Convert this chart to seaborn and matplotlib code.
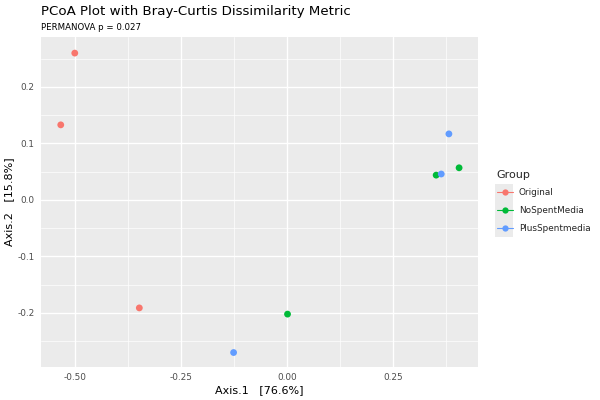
import matplotlib
matplotlib.use("Agg")
import matplotlib.pyplot as plt
import pandas as pd
import seaborn as sns
from matplotlib.lines import Line2D
from matplotlib.patches import Rectangle
from matplotlib.ticker import FixedLocator

# values
groups = ["Original", "Original", "Original",
          "NoSpentMedia", "NoSpentMedia", "NoSpentMedia",
          "PlusSpentmedia", "PlusSpentmedia", "PlusSpentmedia"]
axis1 = [-0.500, -0.533, -0.348, 0.351, 0.405, 0.001, 0.363, 0.381, -0.126]
axis2 = [0.260, 0.133, -0.191, 0.044, 0.057, -0.202, 0.046, 0.117, -0.270]

group_order = ["Original", "NoSpentMedia", "PlusSpentmedia"]
group_colors = ["#F8766D", "#00BA38", "#619CFF"]
x_ticks = [-0.50, -0.25, 0.00, 0.25]
x_tick_labels = ["-0.50", "-0.25", "0.00", "0.25"]
y_ticks = [0.2, 0.1, 0.0, -0.1, -0.2]
y_tick_labels = ["0.2", "0.1", "0.0", "-0.1", "-0.2"]

df = pd.DataFrame({"Axis.1": axis1, "Axis.2": axis2, "Group": groups})

sns.set_style("white")
plt.rcParams["font.family"] = ["DejaVu Sans"]

fig = plt.figure(figsize=(6, 4), dpi=100)
ax = fig.add_axes([0.068, 0.0825, 0.729, 0.825])
ax.set_facecolor("#EBEBEB")

sns.scatterplot(data=df, x="Axis.1", y="Axis.2", hue="Group", hue_order=group_order,
                palette=group_colors, s=24, linewidth=0, ax=ax, legend=False, zorder=3)

ax.set_xlim(-0.580, 0.450)
ax.set_ylim(-0.2956, 0.2885)
ax.set_xticks(x_ticks)
ax.set_xticklabels(x_tick_labels)
ax.set_yticks(y_ticks)
ax.set_yticklabels(y_tick_labels)
ax.xaxis.set_minor_locator(FixedLocator([-0.375, -0.125, 0.125, 0.375]))
ax.yaxis.set_minor_locator(FixedLocator([0.25, 0.15, 0.05, -0.05, -0.15, -0.25]))
ax.grid(which="major", color="white", linewidth=1.0)
ax.grid(which="minor", color="white", linewidth=0.5)
ax.set_axisbelow(True)
for s in ax.spines.values():
    s.set_visible(False)
ax.tick_params(which="major", length=2.5, width=0.7, color="#333333",
               labelcolor="#4D4D4D", labelsize=6.4, pad=2)
ax.tick_params(which="minor", length=0)

ax.set_xlabel("Axis.1   [76.6%]", fontsize=8, color="black", labelpad=2)
ax.set_ylabel("Axis.2   [15.8%]", fontsize=8, color="black", labelpad=2)

fig.text(0.068, 0.9625, "PCoA Plot with Bray-Curtis Dissimilarity Metric", fontsize=9.6, color="black")
fig.text(0.068, 0.925, "PERMANOVA p = 0.027", fontsize=6.2, color="black")

# legend (ggplot style keys)
fig.patches.append(Rectangle((495 / 600, 1 - 237 / 400), 18 / 600, 53 / 400,
                             transform=fig.transFigure, facecolor="#EBEBEB",
                             edgecolor="none", zorder=0))
handles = [Line2D([0], [0], color=c, marker="o", markersize=4.5, linewidth=0.8,
                  markeredgewidth=0) for c in group_colors]
leg = fig.legend(handles, group_order, title="Group", loc="upper left",
                 bbox_to_anchor=(0.822, 0.585), frameon=False, fontsize=6.4,
                 title_fontsize=8, handlelength=1.8, handletextpad=0.67,
                 labelspacing=1.0, borderaxespad=0)
leg._legend_box.align = "left"

fig.savefig("out.png", dpi=100)
